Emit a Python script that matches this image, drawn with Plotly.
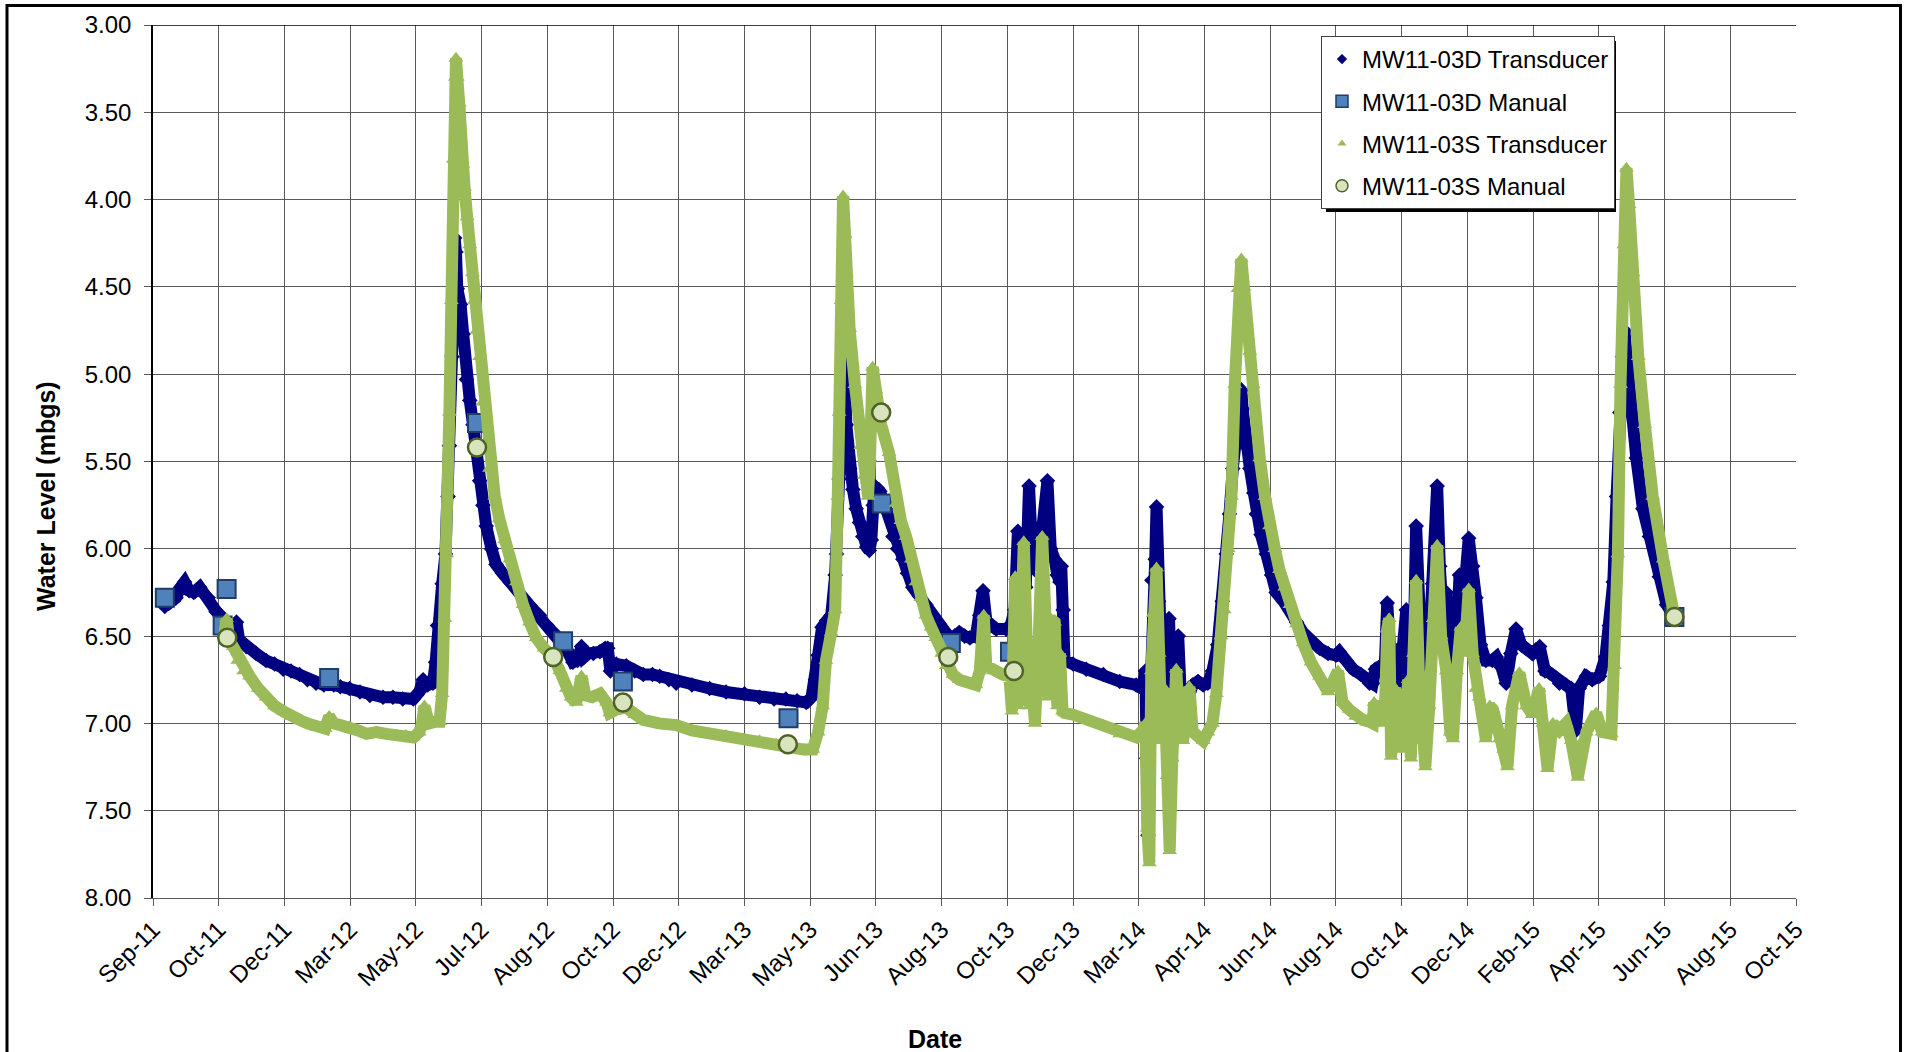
import numpy as np
import pandas as pd
import plotly.graph_objects as go

# ---------------- data ----------------
# x positions are given in "axis tick units" (tick i of the date axis = START + i*STEP_DAYS)
START = pd.Timestamp("2011-09-01")
STEP_DAYS = 60
tick_labels = ["Sep-11", "Oct-11", "Dec-11", "Mar-12", "May-12", "Jul-12", "Aug-12", "Oct-12",
               "Dec-12", "Mar-13", "May-13", "Jun-13", "Aug-13", "Oct-13", "Dec-13", "Mar-14",
               "Apr-14", "Jun-14", "Aug-14", "Oct-14", "Dec-14", "Feb-15", "Apr-15", "Jun-15",
               "Aug-15", "Oct-15"]
y_ticks = [3.0, 3.5, 4.0, 4.5, 5.0, 5.5, 6.0, 6.5, 7.0, 7.5, 8.0]

# MW11-03D transducer (tick-unit position, water level mbgs)
d_transducer = [
    (0.18, 6.33), (0.26, 6.30), (0.35, 6.28), (0.42, 6.22), (0.48, 6.19), (0.55, 6.24),
    (0.62, 6.25), (0.71, 6.22), (0.78, 6.26), (0.84, 6.28), (0.96, 6.36), (1.03, 6.38),
    (1.09, 6.41), (1.15, 6.46), (1.22, 6.47), (1.27, 6.42), (1.31, 6.52), (1.42, 6.56),
    (1.57, 6.60), (1.72, 6.64), (1.85, 6.66), (1.98, 6.69), (2.10, 6.70), (2.23, 6.72),
    (2.35, 6.75), (2.48, 6.77), (2.60, 6.78), (2.75, 6.78), (2.85, 6.79), (2.99, 6.80),
    (3.15, 6.82), (3.30, 6.84), (3.50, 6.85), (3.65, 6.85), (3.80, 6.86), (3.96, 6.86),
    (4.05, 6.82), (4.11, 6.75), (4.18, 6.78), (4.26, 6.77), (4.30, 6.65), (4.33, 6.44),
    (4.40, 6.20), (4.45, 6.03), (4.49, 5.70), (4.51, 5.41), (4.55, 4.90), (4.58, 4.40),
    (4.59, 4.22), (4.61, 4.30), (4.63, 4.51), (4.68, 4.60), (4.72, 4.77), (4.77, 5.03),
    (4.82, 5.15), (4.87, 5.29), (4.92, 5.45), (4.97, 5.61), (5.02, 5.75), (5.07, 5.87),
    (5.15, 6.00), (5.22, 6.09), (5.32, 6.14), (5.43, 6.19), (5.53, 6.23), (5.63, 6.28),
    (5.75, 6.33), (5.88, 6.38), (6.00, 6.44), (6.10, 6.48), (6.19, 6.52), (6.30, 6.58),
    (6.39, 6.65), (6.46, 6.64), (6.52, 6.56), (6.56, 6.62), (6.62, 6.60), (6.70, 6.60),
    (6.80, 6.59), (6.88, 6.57), (6.92, 6.57), (6.96, 6.70), (7.05, 6.66), (7.20, 6.67),
    (7.33, 6.70), (7.46, 6.72), (7.60, 6.72), (7.71, 6.73), (7.85, 6.75), (7.96, 6.77),
    (8.20, 6.78), (8.47, 6.80), (8.72, 6.82), (9.00, 6.83), (9.23, 6.85), (9.45, 6.86),
    (9.63, 6.86), (9.80, 6.87), (9.94, 6.88), (10.02, 6.85), (10.08, 6.75), (10.12, 6.61),
    (10.18, 6.45), (10.25, 6.41), (10.32, 6.38), (10.38, 6.15), (10.40, 6.03), (10.44, 5.60),
    (10.47, 5.22), (10.50, 4.90), (10.53, 5.05), (10.55, 5.29), (10.60, 5.54), (10.65, 5.66),
    (10.70, 5.77), (10.75, 5.85), (10.80, 5.93), (10.86, 5.99), (10.90, 6.01), (10.93, 5.95),
    (10.96, 5.75), (10.98, 5.64), (11.06, 5.67), (11.15, 5.77), (11.26, 5.93), (11.33, 6.00),
    (11.41, 6.06), (11.48, 6.14), (11.56, 6.22), (11.66, 6.27), (11.76, 6.32), (11.86, 6.38),
    (11.96, 6.43), (12.04, 6.47), (12.12, 6.51), (12.20, 6.50), (12.27, 6.48), (12.35, 6.50),
    (12.43, 6.51), (12.52, 6.50), (12.58, 6.38), (12.63, 6.24), (12.68, 6.41), (12.75, 6.44),
    (12.83, 6.46), (12.98, 6.46), (13.05, 6.44), (13.11, 6.35), (13.16, 5.90), (13.20, 6.18),
    (13.25, 6.05), (13.28, 6.22), (13.33, 5.64), (13.38, 6.05), (13.42, 6.12), (13.49, 6.03),
    (13.55, 5.85), (13.61, 5.61), (13.66, 6.00), (13.72, 6.06), (13.76, 6.15), (13.80, 6.19),
    (13.82, 6.10), (13.85, 6.35), (13.87, 6.64), (14.00, 6.66), (14.20, 6.69), (14.46, 6.72),
    (14.71, 6.76), (14.96, 6.78), (15.05, 6.80), (15.10, 6.70), (15.12, 7.20), (15.14, 7.64),
    (15.17, 6.90), (15.20, 6.18), (15.25, 6.06), (15.27, 5.76), (15.30, 6.30), (15.34, 6.60),
    (15.38, 7.05), (15.42, 6.55), (15.46, 6.40), (15.50, 6.90), (15.55, 6.80), (15.60, 6.50),
    (15.64, 6.85), (15.68, 6.82), (15.75, 6.86), (15.82, 6.78), (15.90, 6.76), (15.98, 6.78),
    (16.05, 6.77), (16.12, 6.70), (16.20, 6.55), (16.27, 6.30), (16.33, 6.03), (16.38, 5.80),
    (16.43, 5.54), (16.48, 5.35), (16.51, 5.22), (16.54, 5.12), (16.56, 5.09), (16.58, 5.20),
    (16.62, 5.41), (16.69, 5.54), (16.75, 5.68), (16.79, 5.80), (16.86, 5.92), (16.94, 6.03),
    (17.02, 6.15), (17.09, 6.25), (17.20, 6.30), (17.30, 6.35), (17.40, 6.42), (17.50, 6.48),
    (17.62, 6.53), (17.75, 6.57), (17.88, 6.60), (18.00, 6.61), (18.05, 6.59), (18.15, 6.64),
    (18.26, 6.69), (18.38, 6.72), (18.51, 6.77), (18.56, 6.77), (18.60, 6.69), (18.68, 6.67),
    (18.74, 6.70), (18.78, 6.31), (18.82, 6.55), (18.86, 6.70), (18.92, 6.60), (18.97, 7.07),
    (19.02, 6.55), (19.07, 6.35), (19.12, 6.70), (19.18, 6.60), (19.22, 5.87), (19.26, 6.40),
    (19.32, 6.80), (19.36, 6.98), (19.42, 6.55), (19.47, 6.20), (19.54, 5.64), (19.58, 6.10),
    (19.63, 6.40), (19.68, 6.25), (19.73, 6.70), (19.78, 6.62), (19.84, 6.50), (19.88, 6.15),
    (19.94, 6.30), (20.02, 5.94), (20.08, 6.10), (20.13, 6.28), (20.20, 6.55), (20.28, 6.64),
    (20.38, 6.64), (20.44, 6.62), (20.52, 6.68), (20.59, 6.77), (20.66, 6.60), (20.74, 6.46),
    (20.82, 6.55), (20.89, 6.57), (20.99, 6.60), (21.10, 6.56), (21.18, 6.70), (21.25, 6.71),
    (21.35, 6.74), (21.40, 6.77), (21.50, 6.78), (21.58, 6.80), (21.65, 7.04), (21.70, 6.80),
    (21.81, 6.73), (21.90, 6.75), (22.01, 6.73), (22.10, 6.62), (22.16, 6.44), (22.22, 6.19),
    (22.27, 5.70), (22.32, 5.22), (22.36, 4.90), (22.39, 4.75), (22.44, 4.96), (22.49, 5.22),
    (22.57, 5.48), (22.67, 5.77), (22.77, 5.93), (22.92, 6.16), (23.03, 6.32), (23.13, 6.38),
]

# MW11-03S transducer
s_transducer = [
    (1.09, 6.48), (1.12, 6.40), (1.16, 6.52), (1.22, 6.56), (1.29, 6.64), (1.38, 6.70),
    (1.47, 6.73), (1.60, 6.80), (1.72, 6.85), (1.85, 6.90), (1.98, 6.93), (2.10, 6.96),
    (2.23, 6.98), (2.35, 7.00), (2.48, 7.02), (2.62, 7.03), (2.68, 6.96), (2.75, 7.00),
    (2.85, 7.01), (2.99, 7.02), (3.12, 7.04), (3.25, 7.06), (3.40, 7.05), (3.55, 7.06),
    (3.70, 7.07), (3.85, 7.07), (3.96, 7.08), (4.05, 7.05), (4.09, 7.01), (4.13, 6.90),
    (4.20, 7.00), (4.30, 6.99), (4.36, 6.99), (4.40, 6.83), (4.44, 6.40), (4.47, 6.03),
    (4.51, 5.22), (4.54, 4.58), (4.57, 3.77), (4.60, 3.30), (4.61, 3.19), (4.63, 3.30),
    (4.66, 3.45), (4.69, 3.74), (4.71, 3.80), (4.74, 3.93), (4.78, 4.10), (4.82, 4.26),
    (4.86, 4.42), (4.89, 4.58), (4.93, 4.75), (4.97, 4.90), (5.02, 5.16), (5.12, 5.54),
    (5.20, 5.70), (5.27, 5.83), (5.35, 5.95), (5.43, 6.06), (5.53, 6.19), (5.63, 6.32),
    (5.73, 6.42), (5.83, 6.51), (5.95, 6.57), (6.09, 6.62), (6.19, 6.70), (6.29, 6.80),
    (6.36, 6.85), (6.44, 6.88), (6.52, 6.73), (6.58, 6.84), (6.68, 6.85), (6.80, 6.83),
    (6.90, 6.88), (6.95, 6.94), (7.05, 6.92), (7.20, 6.91), (7.33, 6.95), (7.46, 6.98),
    (7.70, 7.00), (7.96, 7.01), (8.20, 7.04), (8.47, 7.06), (8.72, 7.07), (8.98, 7.09),
    (9.23, 7.10), (9.48, 7.12), (9.74, 7.14), (9.90, 7.15), (10.04, 7.15), (10.12, 7.05),
    (10.19, 6.90), (10.24, 6.64), (10.32, 6.48), (10.38, 6.35), (10.42, 5.70), (10.44, 5.22),
    (10.47, 4.58), (10.50, 3.98), (10.53, 4.20), (10.55, 4.42), (10.60, 4.74), (10.68, 5.06),
    (10.77, 5.41), (10.83, 5.58), (10.88, 5.70), (10.91, 5.48), (10.95, 4.96), (11.00, 5.09),
    (11.08, 5.29), (11.20, 5.45), (11.31, 5.74), (11.38, 5.84), (11.46, 5.93), (11.54, 6.06),
    (11.61, 6.19), (11.68, 6.28), (11.76, 6.38), (11.84, 6.45), (11.91, 6.51), (12.00, 6.60),
    (12.07, 6.67), (12.17, 6.72), (12.27, 6.75), (12.40, 6.77), (12.52, 6.78), (12.58, 6.70),
    (12.64, 6.38), (12.68, 6.67), (12.80, 6.70), (12.93, 6.72), (13.03, 6.73), (13.07, 6.93),
    (13.12, 6.16), (13.16, 6.90), (13.20, 6.60), (13.25, 5.96), (13.30, 6.60), (13.34, 6.90),
    (13.38, 6.80), (13.42, 7.00), (13.47, 6.60), (13.53, 5.93), (13.58, 6.40), (13.62, 6.85),
    (13.66, 6.40), (13.72, 6.42), (13.76, 6.90), (13.80, 6.60), (13.84, 6.93), (13.87, 6.94),
    (14.00, 6.95), (14.20, 6.98), (14.46, 7.01), (14.71, 7.06), (14.96, 7.08), (15.06, 7.04),
    (15.10, 7.00), (15.13, 7.60), (15.16, 7.80), (15.19, 6.70), (15.22, 6.37), (15.27, 6.11),
    (15.31, 6.60), (15.35, 7.10), (15.39, 6.80), (15.43, 7.30), (15.47, 7.73), (15.51, 7.20),
    (15.57, 6.69), (15.62, 7.05), (15.67, 7.10), (15.72, 7.00), (15.77, 6.79), (15.82, 7.05),
    (15.92, 7.07), (15.98, 7.10), (16.05, 7.05), (16.12, 7.00), (16.18, 6.83), (16.25, 6.50),
    (16.30, 6.35), (16.36, 6.00), (16.41, 5.70), (16.46, 5.06), (16.51, 4.51), (16.56, 4.34),
    (16.60, 4.50), (16.64, 4.70), (16.69, 4.87), (16.74, 5.06), (16.84, 5.48), (16.92, 5.70),
    (16.99, 5.87), (17.07, 6.00), (17.14, 6.12), (17.22, 6.22), (17.30, 6.32), (17.40, 6.43),
    (17.50, 6.54), (17.62, 6.65), (17.75, 6.73), (17.88, 6.82), (18.03, 6.70), (18.10, 6.88),
    (18.20, 6.92), (18.30, 6.96), (18.41, 6.98), (18.51, 6.99), (18.56, 7.00), (18.58, 6.88),
    (18.66, 6.93), (18.74, 7.00), (18.78, 6.46), (18.81, 6.40), (18.84, 7.19), (18.90, 6.80),
    (18.97, 6.90), (19.02, 7.15), (19.10, 6.75), (19.14, 7.20), (19.18, 6.60), (19.22, 6.18),
    (19.26, 6.70), (19.30, 7.10), (19.36, 7.25), (19.42, 6.90), (19.48, 6.40), (19.54, 5.98),
    (19.60, 6.50), (19.68, 6.70), (19.74, 7.05), (19.78, 7.09), (19.84, 6.70), (19.90, 6.45),
    (19.96, 6.60), (20.02, 6.23), (20.08, 6.60), (20.13, 6.80), (20.18, 6.85), (20.28, 7.09),
    (20.34, 6.90), (20.39, 6.92), (20.49, 7.09), (20.55, 7.15), (20.61, 7.25), (20.68, 6.90),
    (20.79, 6.71), (20.90, 6.90), (20.99, 6.95), (21.09, 6.80), (21.15, 7.00), (21.22, 7.26),
    (21.30, 7.00), (21.40, 7.04), (21.50, 7.00), (21.58, 7.10), (21.68, 7.31), (21.75, 7.10),
    (21.81, 7.05), (21.96, 6.94), (22.05, 7.05), (22.19, 7.06), (22.24, 6.67), (22.29, 6.03),
    (22.33, 5.06), (22.38, 4.26), (22.42, 3.82), (22.46, 4.03), (22.52, 4.42), (22.60, 4.90),
    (22.70, 5.29), (22.82, 5.70), (22.98, 6.06), (23.13, 6.35),
]

# Manual measurements
d_manual = [(0.18, 6.28), (1.06, 6.44), (1.12, 6.23), (2.68, 6.74), (4.93, 5.28), (6.24, 6.53),
            (7.15, 6.76), (9.67, 6.97), (11.09, 5.74), (12.14, 6.54), (13.04, 6.59), (23.15, 6.39)]
s_manual = [(1.13, 6.51), (4.93, 5.42), (6.09, 6.62), (7.15, 6.88), (9.66, 7.12), (11.08, 5.22),
            (12.10, 6.62), (13.10, 6.70), (23.15, 6.39)]


def to_dates(pairs):
    t = np.array([p[0] for p in pairs])
    v = [p[1] for p in pairs]
    return START + pd.to_timedelta(t * STEP_DAYS, unit="D"), v


# ---------------- styling ----------------
FONT = "Liberation Sans, Arial, Helvetica, sans-serif"
NAVY = "#000080"
GREEN = "#9BBB59"
GRID = "#5a5a5a"

fig = go.Figure()

x, y = to_dates(d_transducer)
fig.add_trace(go.Scatter(x=x, y=y, mode="lines+markers", name="MW11-03D Transducer",
                         line=dict(color=NAVY, width=12),
                         marker=dict(symbol="diamond", size=12, color=NAVY),
                         showlegend=False))
x, y = to_dates(d_manual)
fig.add_trace(go.Scatter(x=x, y=y, mode="markers", name="MW11-03D Manual",
                         marker=dict(symbol="square", size=18, color="#4F81BD",
                                     line=dict(color="#1F3D66", width=2)),
                         showlegend=False))
x, y = to_dates(s_transducer)
fig.add_trace(go.Scatter(x=x, y=y, mode="lines+markers", name="MW11-03S Transducer",
                         line=dict(color=GREEN, width=12),
                         marker=dict(symbol="triangle-up", size=13, color=GREEN),
                         showlegend=False))
x, y = to_dates(s_manual)
fig.add_trace(go.Scatter(x=x, y=y, mode="markers", name="MW11-03S Manual",
                         marker=dict(symbol="circle", size=18, color="#D7E4BD",
                                     line=dict(color="#4F6228", width=2.5)),
                         showlegend=False))

# legend entries (marker-only symbols, as in the original legend)
legend_items = [
    ("MW11-03D Transducer", dict(symbol="diamond", size=8, color=NAVY)),
    ("MW11-03D Manual", dict(symbol="square", size=12, color="#4F81BD",
                             line=dict(color="#1F3D66", width=1.5))),
    ("MW11-03S Transducer", dict(symbol="triangle-up", size=8, color=GREEN)),
    ("MW11-03S Manual", dict(symbol="circle", size=12, color="#D7E4BD",
                             line=dict(color="#4F6228", width=1.5))),
]
for i, (name, mk) in enumerate(legend_items):
    fig.add_trace(go.Scatter(x=[None], y=[None], mode="markers", name=name, marker=mk,
                             legendgroup=f"g{i}", showlegend=True, hoverinfo="skip"))

tickvals = [START + pd.Timedelta(days=STEP_DAYS * i) for i in range(len(tick_labels))]

W, H = 1907, 1052
L, R, T, B = 153, 111, 25, 154
PW, PH = W - L - R, H - T - B


def px(xp):
    return (xp - L) / PW


def py(yp):
    return 1 - (yp - T) / PH


fig.update_layout(
    width=W, height=H,
    margin=dict(l=L, r=R, t=T, b=B, pad=0),
    paper_bgcolor="white", plot_bgcolor="white",
    font=dict(family=FONT, size=24, color="black"),
    showlegend=True,
    legend=dict(x=px(1321), y=py(36), xanchor="left", yanchor="top",
                bgcolor="white", bordercolor="#404040", borderwidth=1,
                font=dict(family=FONT, size=24, color="black"),
                tracegroupgap=8, itemwidth=30, traceorder="grouped"),
    xaxis=dict(type="date", range=[tickvals[0], tickvals[-1]],
               tickmode="array", tickvals=tickvals, ticktext=tick_labels,
               tickangle=-45, ticks="outside", ticklen=7, tickcolor=GRID,
               showgrid=True, gridcolor=GRID, gridwidth=1,
               showline=True, linecolor=GRID, linewidth=1,
               tickfont=dict(family=FONT, size=24, color="black"),
               zeroline=False),
    yaxis=dict(range=[8, 3], tickmode="array", tickvals=y_ticks,
               ticktext=[f"{v:.2f}" for v in y_ticks],
               ticks="outside", ticklen=7, tickcolor=GRID,
               showgrid=True, gridcolor=GRID, gridwidth=1,
               showline=True, linecolor="black", linewidth=1.5,
               tickfont=dict(family=FONT, size=24, color="black"),
               ticklabelstandoff=8, zeroline=False),
    annotations=[
        dict(text="<b>Water Level (mbgs)</b>", xref="paper", yref="paper",
             x=px(46), y=py(496), xanchor="center", yanchor="middle", textangle=-90,
             showarrow=False, font=dict(family=FONT, size=25, color="black")),
        dict(text="<b>Date</b>", xref="paper", yref="paper",
             x=px(935), y=py(1039), xanchor="center", yanchor="middle",
             showarrow=False, font=dict(family=FONT, size=25, color="black")),
    ],
    shapes=[
        # outer chart frame
        dict(type="rect", xref="paper", yref="paper", x0=px(7), x1=px(1900.5),
             y0=py(1200), y1=py(5.5), line=dict(color="black", width=3),
             fillcolor="rgba(0,0,0,0)", layer="above"),
        # plot-area top border
        dict(type="line", xref="paper", yref="y", x0=0, x1=1, y0=3, y1=3,
             line=dict(color="black", width=1.5), layer="above"),
        # legend drop shadow
        dict(type="rect", xref="paper", yref="paper", x0=px(1326), x1=px(1616),
             y0=py(212), y1=py(41), line=dict(width=0), fillcolor="black", layer="above"),
    ],
    hovermode="closest",
)

fig.write_html("out.html")
